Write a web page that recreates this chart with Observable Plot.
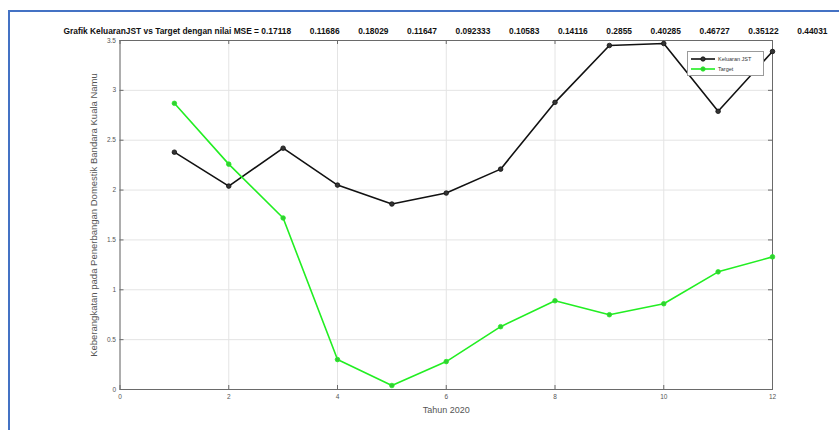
<!DOCTYPE html>
<html>
<head>
<meta charset="utf-8">
<script src="https://cdn.jsdelivr.net/npm/d3@7"></script>
<script src="https://cdn.jsdelivr.net/npm/@observablehq/plot@0.6"></script>
<style>
  html, body { margin: 0; padding: 0; background: #fff; }
  #wrap { position: relative; width: 839px; height: 430px; overflow: hidden; font-family: "Liberation Sans", Arial, sans-serif; }
  #frameBox { position: absolute; left: 8px; top: 10px; width: 840px; height: 430px; border-left: 2px solid #4472C4; border-top: 2px solid #4472C4; box-sizing: border-box; pointer-events: none; }
  #title { position: absolute; left: 0; width: 891px; top: 26px; line-height: 10px; text-align: center; font-weight: bold; font-size: 8.4px; white-space: pre; color: #111; }
  #chart { position: absolute; left: 0; top: 0; }
  #legend { position: absolute; left: 687px; top: 51px; width: 77px; height: 25px; border: 1px solid #9a9a9a; background: #fff; box-sizing: border-box; font-size: 5.5px; color: #333; }
  #legend .row { position: absolute; left: 2px; height: 10px; display: flex; align-items: center; }
  #legend svg { display: block; margin-right: 2px; }
</style>
</head>
<body>
<div id="wrap">
  <div id="chart"></div>
  <div id="title"></div>
  <div id="legend"></div>
  <div id="frameBox"></div>
</div>
<script>
// ---- data ----
const tahun = [1, 2, 3, 4, 5, 6, 7, 8, 9, 10, 11, 12];
const keluaranJST = [2.38, 2.04, 2.42, 2.05, 1.86, 1.97, 2.21, 2.88, 3.45, 3.47, 2.79, 3.39];
const target = [2.87, 2.26, 1.72, 0.30, 0.04, 0.28, 0.63, 0.89, 0.75, 0.86, 1.18, 1.33];
const mseValues = ["0.17118", "0.11686", "0.18029", "0.11647", "0.092333", "0.10583", "0.14116", "0.2855", "0.40285", "0.46727", "0.35122", "0.44031"];
const xTicks = [0, 2, 4, 6, 8, 10, 12];
const yTicks = [0, 0.5, 1, 1.5, 2, 2.5, 3, 3.5];
const seriesNames = ["Keluaran JST", "Target"];
const titleText = "Grafik KeluaranJST vs Target dengan nilai MSE = " + mseValues.join("        ");
const xLabel = "Tahun 2020";
const yLabel = "Keberangkatan pada Penerbangan Domestik Bandara Kuala Namu";

const colors = { "Keluaran JST": "#111111", "Target": "#22ee22" };
const markerFill = { "Keluaran JST": "#333333", "Target": "#33cc33" };

const rows = [];
tahun.forEach((t, i) => rows.push({ tahun: t, nilai: keluaranJST[i], seri: seriesNames[0] }));
tahun.forEach((t, i) => rows.push({ tahun: t, nilai: target[i], seri: seriesNames[1] }));

const W = 839, H = 430;
const mL = 119.5, mR = 67, mT = 40, mB = 41;
const pw = W - mL - mR, ph = H - mT - mB;
const axisColor = "#6a6a6a";

const plot = Plot.plot({
  width: W,
  height: H,
  marginLeft: mL,
  marginRight: mR,
  marginTop: mT,
  marginBottom: mB,
  style: { fontFamily: "Liberation Sans, Arial, sans-serif", fontSize: "6px", color: "#555", background: "transparent" },
  x: { domain: [0, 12], axis: null },
  y: { domain: [0, 3.5], axis: null },
  marks: [
    // grid
    Plot.ruleX(xTicks, { x: d => d, stroke: "#e4e4e4", strokeWidth: 1 }),
    Plot.ruleY(yTicks, { y: d => d, stroke: "#e4e4e4", strokeWidth: 1 }),
    // inward ticks bottom / top
    Plot.tickX(xTicks, { x: d => d, insetTop: ph - 4, stroke: axisColor }),
    Plot.tickX(xTicks, { x: d => d, insetBottom: ph - 4, stroke: axisColor }),
    // inward ticks left / right
    Plot.tickY(yTicks, { y: d => d, insetRight: pw - 4, stroke: axisColor }),
    Plot.tickY(yTicks, { y: d => d, insetLeft: pw - 4, stroke: axisColor }),
    Plot.frame({ stroke: axisColor, strokeWidth: 1 }),
    // tick labels
    Plot.text(xTicks, { x: d => d, frameAnchor: "bottom", dy: 9, text: d => String(d), fill: "#555", fontSize: 6.5 }),
    Plot.text(yTicks, { y: d => d, frameAnchor: "left", dx: -4, textAnchor: "end", text: d => String(d), fill: "#555", fontSize: 6.5 }),
    // axis labels
    Plot.text([xLabel], { frameAnchor: "bottom", dy: 23, textAnchor: "middle", text: d => d, fill: "#555", fontSize: 9 }),
    Plot.text([yLabel], { frameAnchor: "left", dx: -26, rotate: -90, textAnchor: "middle", text: d => d, fill: "#555", fontSize: 9.5 }),
    // series
    Plot.line(rows, { x: "tahun", y: "nilai", z: "seri", stroke: d => colors[d.seri], strokeWidth: 1.6 }),
    Plot.dot(rows, { x: "tahun", y: "nilai", r: 2.3, fill: d => markerFill[d.seri], stroke: d => colors[d.seri], strokeWidth: 0.8 })
  ]
});
document.getElementById("chart").appendChild(plot);

document.getElementById("title").textContent = titleText;

// legend
const legend = document.getElementById("legend");
seriesNames.forEach((name, i) => {
  const row = document.createElement("div");
  row.className = "row";
  row.style.top = (2 + i * 10) + "px";
  row.innerHTML = `<svg width="26" height="8"><line x1="1" y1="4" x2="25" y2="4" stroke="${colors[name]}" stroke-width="1.6"/><circle cx="13" cy="4" r="2.2" fill="${markerFill[name]}" stroke="${colors[name]}" stroke-width="0.8"/></svg><span></span>`;
  row.querySelector("span").textContent = name;
  legend.appendChild(row);
});
</script>
</body>
</html>
